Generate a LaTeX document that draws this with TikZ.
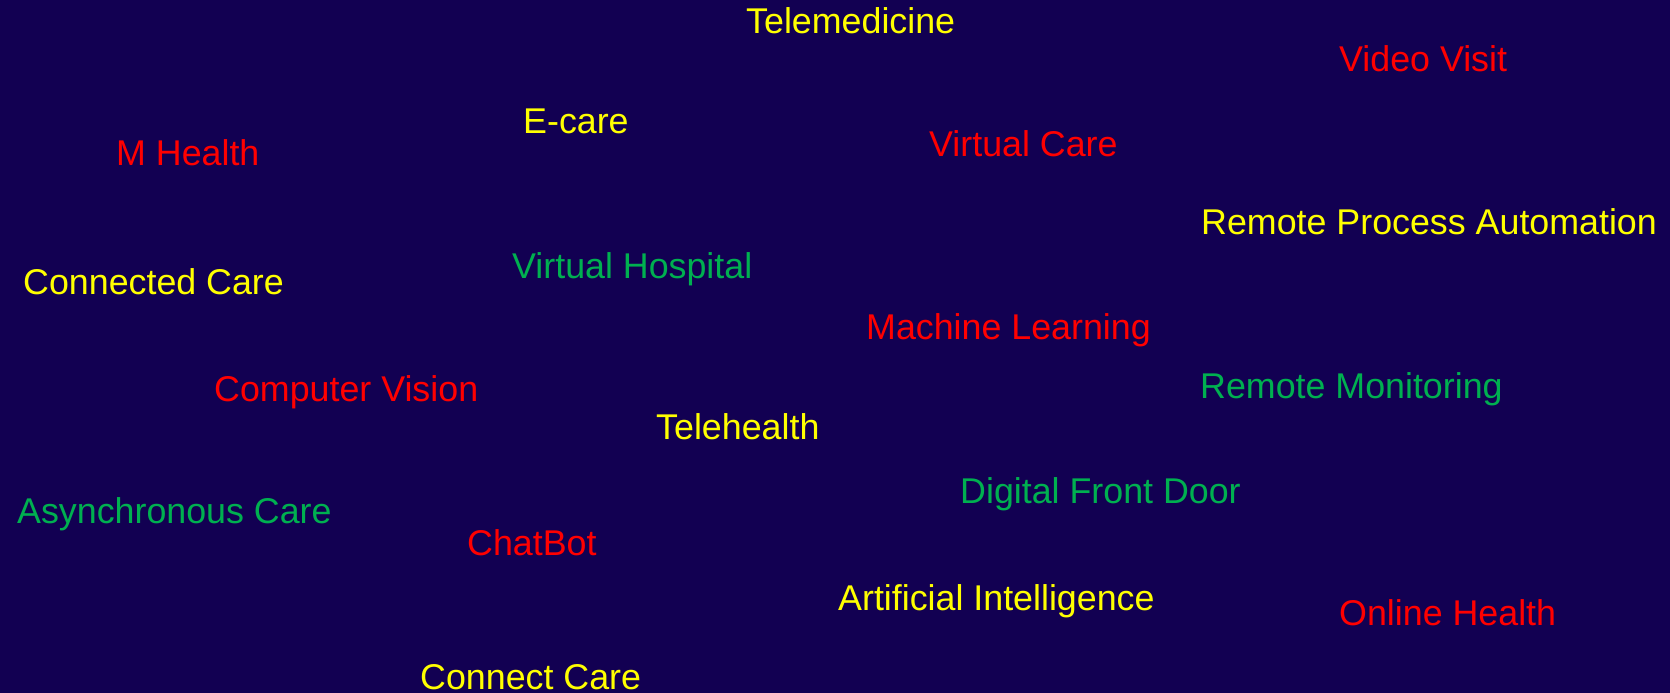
\documentclass[tikz,border=0pt]{standalone}
\usepackage{fontspec}
\setmainfont{Liberation Sans}
\definecolor{bgc}{RGB}{18,0,82}
\definecolor{wy}{RGB}{255,255,0}
\definecolor{wr}{RGB}{255,0,0}
\definecolor{wg}{RGB}{0,176,80}
\tikzset{
  word/.style={anchor=base west, inner sep=0pt, font=\fontsize{35.8}{40}\selectfont},
  ylw/.style={word, text=wy},
  rd/.style={word, text=wr},
  grn/.style={word, text=wg}
}
\begin{document}
\begin{tikzpicture}[x=1pt,y=-1pt]
\fill[bgc] (0,0) rectangle (1670,693);
\useasboundingbox (0,0) rectangle (1670,693);
\node[ylw] (telemedicine) at (746,34) {Telemedicine};
\node[rd] (videovisit) at (1339,71) {Video Visit};
\node[ylw] (ecare) at (523,133) {E-care};
\node[rd] (virtualcare) at (929,156) {Virtual Care};
\node[rd] (mhealth) at (116,165) {M Health};
\node[ylw] (rpa) at (1201,234) {Remote Process Automation};
\node[grn] (vhospital) at (512,278) {Virtual Hospital};
\node[ylw] (connectedcare) at (23,294) {Connected Care};
\node[rd] (ml) at (866,339) {Machine Learning};
\node[grn] (remotemon) at (1200,398) {Remote Monitoring};
\node[rd] (cv) at (214,401) {Computer Vision};
\node[ylw] (telehealth) at (656,439) {Telehealth};
\node[grn] (dfd) at (960,503) {Digital Front Door};
\node[grn] (async) at (17,523) {Asynchronous Care};
\node[rd] (chatbot) at (467,555) {ChatBot};
\node[ylw] (ai) at (838,610) {Artificial Intelligence};
\node[rd] (online) at (1339,625) {Online Health};
\node[ylw] (connectcare) at (420,689) {Connect Care};
\end{tikzpicture}
\end{document}
